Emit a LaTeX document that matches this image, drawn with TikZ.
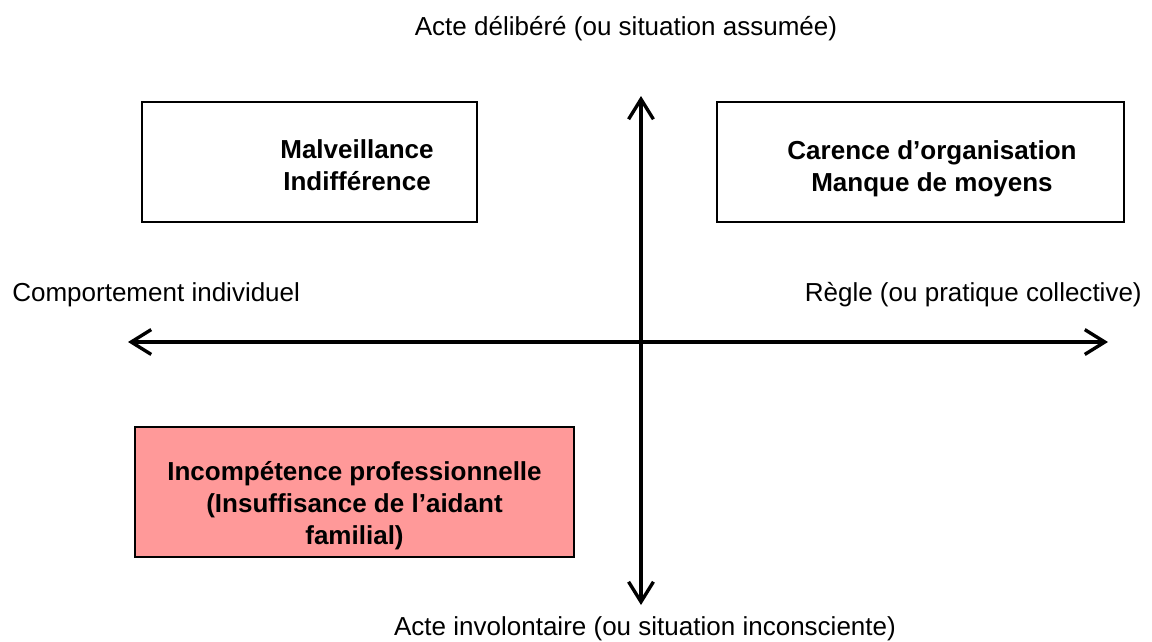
\documentclass[tikz,border=0pt]{standalone}
\usepackage{fontspec}
\setmainfont{Liberation Sans}
\usetikzlibrary{arrows.meta, positioning}
\definecolor{rosefill}{RGB}{255,153,153}
\newcommand{\taillediag}{\fontsize{18.5pt}{22.8pt}\selectfont}
\tikzset{
	axe/.style={line width=2.4pt, {Straight Barb[length=0.5cm,width=0.62cm,line width=2.4pt]}-{Straight Barb[length=0.5cm,width=0.62cm,line width=2.4pt]}},
	cadre/.style={draw=black, line width=1.3pt, rectangle, inner sep=0pt},
	etiquette/.style={inner sep=0pt, font=\taillediag},
	titre/.style={inner sep=0pt, align=center, font=\taillediag\bfseries}
}

\begin{document}
\begin{tikzpicture}[x=0.025cm, y=-0.025cm]
	\useasboundingbox (0,0) rectangle (1152,641);

	% axes
	\coordinate (Ouest) at (128,342);
	\coordinate (Est)   at (1108,342);
	\coordinate (Nord)  at (641,96);
	\coordinate (Sud)   at (641,605);
	\draw[axe] (Ouest) -- (Est);
	\draw[axe] (Nord) -- (Sud);

	% labels of the axes
	\node[etiquette, anchor=base]      (delibere)   at (626,35)  {Acte délibéré (ou situation assumée)};
	\node[etiquette, anchor=base]      (involont)   at (645,635) {Acte involontaire (ou situation inconsciente)};
	\node[etiquette, anchor=base west] (individuel) at (12,301)  {Comportement individuel};
	\node[etiquette, anchor=base east] (collectif)  at (1142,301) {Règle (ou pratique collective)};

	% quadrants
	\node[cadre, minimum width=8.375cm, minimum height=3cm]                     (boxMal) at (309.5,162) {};
	\node[cadre, minimum width=10.175cm, minimum height=3cm]                    (boxOrg) at (920.5,162) {};
	\node[cadre, fill=rosefill, minimum width=10.975cm, minimum height=3.25cm]  (boxInc) at (354.5,492) {};

	\node[titre] (txtMal) at (357,165)   {Malveillance\\Indifférence};
	\node[titre] (txtOrg) at (932,168.5) {Carence d’organisation\\Manque de moyens};
	\node[titre] (txtInc) at (354.5,506) {Incompétence professionnelle\\(Insuffisance de l’aidant\\familial)};
\end{tikzpicture}
\end{document}
